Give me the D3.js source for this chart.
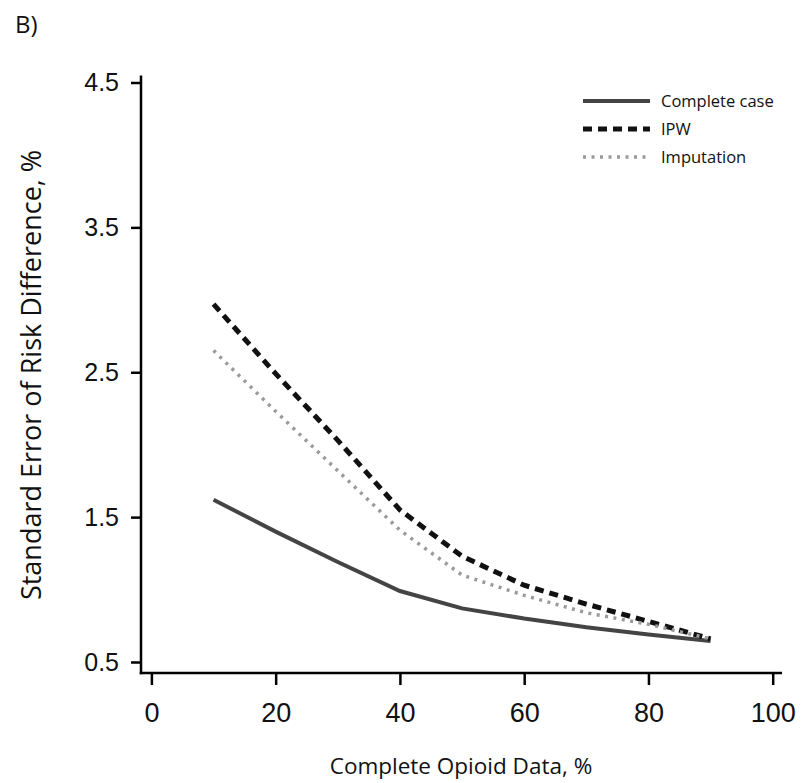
<!DOCTYPE html>
<html>
<head>
<meta charset="utf-8">
<script src="https://cdn.jsdelivr.net/npm/d3@7"></script>
<style>
  body { margin: 0; background: #fff; }
  svg { font-family: "Open Sans", "DejaVu Sans", sans-serif; }
  .axis text { font-size: 27px; fill: #111; }
  .axis line, .axis path { stroke: #000; stroke-width: 2.5px; }
</style>
</head>
<body>
<svg id="canvas"></svg>
<script>
// data
const completeData = [10, 20, 30, 40, 50, 60, 70, 80, 90];
const completeCase = [1.62, 1.40, 1.19, 0.99, 0.87, 0.80, 0.74, 0.69, 0.645];
const ipw          = [2.97, 2.49, 2.03, 1.55, 1.23, 1.03, 0.90, 0.78, 0.66];
const imputation   = [2.65, 2.23, 1.82, 1.41, 1.10, 0.96, 0.84, 0.76, 0.66];
const seriesNames = ["Complete case", "IPW", "Imputation"];
const xTicks = [0, 20, 40, 60, 80, 100];
const yTicks = [0.5, 1.5, 2.5, 3.5, 4.5];

const width = 803;
const height = 783;

const svg = d3.select("#canvas")
    .attr("width", width)
    .attr("height", height);

const x = d3.scaleLinear().domain([0, 100]).range([151.4, 772.7]);
const y = d3.scaleLinear().domain([0.5, 4.5]).range([662, 82.5]);

const axisX = 141;   // y-axis sits left of x=0
const axisY = 673;   // x-axis sits below 0.5

// axis lines (offset frame)
svg.append("line")
    .attr("x1", axisX).attr("x2", axisX)
    .attr("y1", y(4.5) - 7).attr("y2", axisY + 1.25)
    .attr("stroke", "#000").attr("stroke-width", 2.5);
svg.append("line")
    .attr("x1", axisX - 1.25).attr("x2", 782)
    .attr("y1", axisY).attr("y2", axisY)
    .attr("stroke", "#000").attr("stroke-width", 2.5);

const gy = svg.append("g")
    .attr("class", "axis")
    .attr("transform", `translate(${axisX},0)`)
    .call(d3.axisLeft(y).tickValues(yTicks).tickSize(10).tickPadding(12)
        .tickFormat(d3.format(".1f")));
gy.select(".domain").remove();
gy.selectAll("text").style("font-size", "25px");

const gx = svg.append("g")
    .attr("class", "axis")
    .attr("transform", `translate(0,${axisY})`)
    .call(d3.axisBottom(x).tickValues(xTicks).tickSize(12).tickPadding(18));
gx.select(".domain").remove();

// axis titles
svg.append("text")
    .attr("x", 461)
    .attr("y", 774)
    .attr("text-anchor", "middle")
    .style("font-size", "22.5px")
    .attr("fill", "#111")
    .text("Complete Opioid Data, %");

svg.append("text")
    .attr("transform", "translate(41,375) rotate(-90)")
    .attr("text-anchor", "middle")
    .style("font-size", "27px")
    .attr("fill", "#111")
    .text("Standard Error of Risk Difference, %");

svg.append("text")
    .attr("x", 15)
    .attr("y", 33)
    .style("font-size", "24px")
    .attr("fill", "#111")
    .text("B)");

// series
const styles = [
    { color: "#444444", width: 4, dash: null },
    { color: "#111111", width: 5, dash: "9,6" },
    { color: "#9a9a9a", width: 3.5, dash: "3,5.5" }
];
const allSeries = [completeCase, ipw, imputation];

const line = d3.line()
    .x(d => x(d[0]))
    .y(d => y(d[1]));

allSeries.forEach((vals, i) => {
    const pts = completeData.map((c, j) => [c, vals[j]]);
    svg.append("path")
        .datum(pts)
        .attr("fill", "none")
        .attr("stroke", styles[i].color)
        .attr("stroke-width", styles[i].width)
        .attr("stroke-dasharray", styles[i].dash)
        .attr("d", line);
});

// legend
const legend = svg.append("g").attr("transform", "translate(583,101)");
seriesNames.forEach((name, i) => {
    const ly = i * 28;
    legend.append("line")
        .attr("x1", 0).attr("x2", 67)
        .attr("y1", ly).attr("y2", ly)
        .attr("stroke", styles[i].color)
        .attr("stroke-width", styles[i].width)
        .attr("stroke-dasharray", styles[i].dash);
    legend.append("text")
        .attr("x", 78)
        .attr("y", ly + 6)
        .style("font-size", "16.5px")
        .attr("fill", "#111")
        .text(name);
});
</script>
</body>
</html>
